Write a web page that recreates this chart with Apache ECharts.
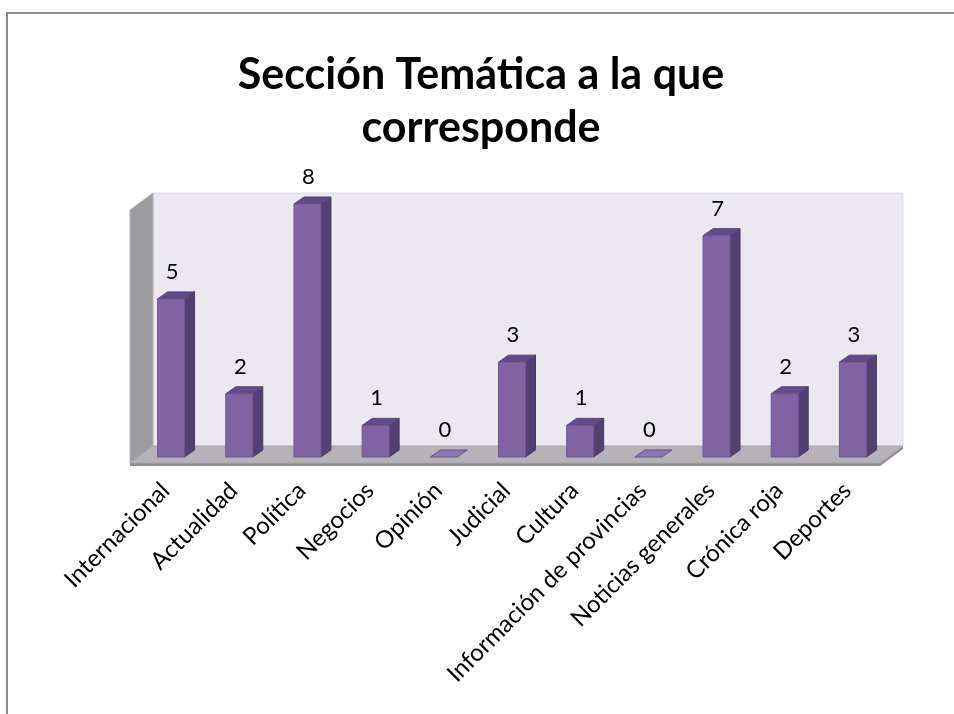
<!DOCTYPE html>
<html>
<head>
<meta charset="utf-8">
<script src="https://cdn.jsdelivr.net/npm/echarts@6/dist/echarts.min.js"></script>
<style>
html,body{margin:0;padding:0;background:#fff;}
#main{width:954px;height:714px;}
</style>
</head>
<body>
<div id="main"></div>
<script>
// datos del grafico
var categorias = ['Internacional', 'Actualidad', 'Política', 'Negocios', 'Opinión', 'Judicial',
	'Cultura', 'Información de provincias', 'Noticias generales', 'Crónica roja', 'Deportes'];
var valores = [5, 2, 8, 1, 0, 3, 1, 0, 7, 2, 3];
var ejeMin = 0;
var ejeMax = 8;

var FUENTE = 'Lato, "Open Sans", sans-serif';

// profundidad del piso / paredes y de las barras
var PISO = {fx: -7, fy: 6, bx: 16, by: -11};
var BARRA = {dx: 10, dy: -7, ancho: 0.396};

function paredes(params, api) {
	var cs = params.coordSys;
	var x0 = cs.x, x1 = cs.x + cs.width;
	var y0 = cs.y + cs.height, yTop = cs.y;
	var fl = [x0 + PISO.fx, y0 + PISO.fy], fr = [x1 + PISO.fx, y0 + PISO.fy];
	var bl = [x0 + PISO.bx, y0 + PISO.by], br = [x1 + PISO.bx, y0 + PISO.by];
	return {
		type: 'group',
		children: [
			// pared del fondo
			{type: 'rect', shape: {x: bl[0], y: yTop + PISO.by, width: br[0] - bl[0], height: bl[1] - (yTop + PISO.by)},
				style: {fill: '#ebe8f0', stroke: '#dcdae0', lineWidth: 1}},
			// pared lateral
			{type: 'polygon', shape: {points: [fl, bl, [bl[0], yTop + PISO.by], [fl[0], yTop + PISO.fy]]},
				style: {fill: '#9d9c9f', stroke: '#b4b3b6', lineWidth: 1}},
			// canto del piso
			{type: 'rect', shape: {x: fl[0], y: fl[1] - 1, width: fr[0] - fl[0], height: 4},
				style: {fill: '#8e8d90'}},
			{type: 'polygon', shape: {points: [fr, [fr[0], fr[1] + 3], [br[0], br[1] + 3], br]},
				style: {fill: '#8e8d90'}},
			// piso
			{type: 'polygon', shape: {points: [fl, fr, br, bl]},
				style: {fill: '#b6b2b8', stroke: '#a9a5ab', lineWidth: 1}}
		]
	};
}

function barra3d(params, api) {
	var i = api.value(0), v = api.value(1);
	var base = api.coord([i, 0]);
	var tope = api.coord([i, v]);
	var w = api.size([1, 0])[0] * BARRA.ancho;
	var xa = base[0] - w / 2, xb = base[0] + w / 2;
	var dx = BARRA.dx, dy = BARRA.dy;
	var hijos = [];
	if (v === 0) {
		hijos.push({type: 'polygon', shape: {points: [[xa, base[1]], [xb, base[1]], [xb + dx, base[1] + dy], [xa + dx, base[1] + dy]]},
			style: {fill: '#8c79ad', stroke: '#6a5390', lineWidth: 1}});
	} else {
		hijos.push({type: 'polygon', shape: {points: [[xb, base[1]], [xb + dx, base[1] + dy], [xb + dx, tope[1] + dy], [xb, tope[1]]]},
			style: {fill: '#544070', stroke: '#4c3a66', lineWidth: 1}});
		hijos.push({type: 'polygon', shape: {points: [[xa, tope[1]], [xb, tope[1]], [xb + dx, tope[1] + dy], [xa + dx, tope[1] + dy]]},
			style: {fill: '#634c85', stroke: '#58437a', lineWidth: 1}});
		hijos.push({type: 'rect', shape: {x: xa, y: tope[1], width: w, height: base[1] - tope[1]},
			style: {fill: '#8064a2', stroke: '#6f5692', lineWidth: 1}});
	}
	hijos.push({type: 'text', style: {text: String(v), x: base[0] + 1, y: tope[1] - 27,
		align: 'center', verticalAlign: 'middle', font: '22px ' + FUENTE, fill: '#000'}});
	return {type: 'group', children: hijos};
}

var datos = [];
for (var i = 0; i < categorias.length; i++) {
	datos.push([i, valores[i]]);
}

var option = {
	backgroundColor: '#fff',
	animation: false,
	title: {
		text: 'Sección Temática a la que\ncorresponde',
		left: 476,
		textAlign: 'center',
		top: 44,
		textStyle: {fontFamily: FUENTE, fontWeight: 'bold', fontSize: 43, lineHeight: 53, color: '#000'}
	},
	graphic: [
		{type: 'rect', shape: {x: 7, y: 13, width: 1200, height: 1000}, style: {fill: 'none', stroke: '#8a8a8a', lineWidth: 2}, z: 100}
	],
	grid: {left: 137, right: 67, top: 204, bottom: 257},
	xAxis: {
		type: 'category',
		data: categorias,
		axisLine: {show: false},
		axisTick: {show: false},
		axisLabel: {interval: 0, rotate: 45, margin: 24, padding: [0, 8, 0, 0], fontFamily: FUENTE, fontSize: 24, color: '#000'}
	},
	yAxis: {
		type: 'value', min: ejeMin, max: ejeMax, show: false, splitLine: {show: false}
	},
	series: [
		{type: 'custom', name: 'paredes', renderItem: paredes, data: [[0, 0]], z: 1, silent: true},
		{type: 'custom', name: 'Sección', renderItem: barra3d, data: datos, z: 2,
			encode: {x: 0, y: 1}}
	]
};

var chart = echarts.init(document.getElementById('main'));
chart.setOption(option);
</script>
</body>
</html>
